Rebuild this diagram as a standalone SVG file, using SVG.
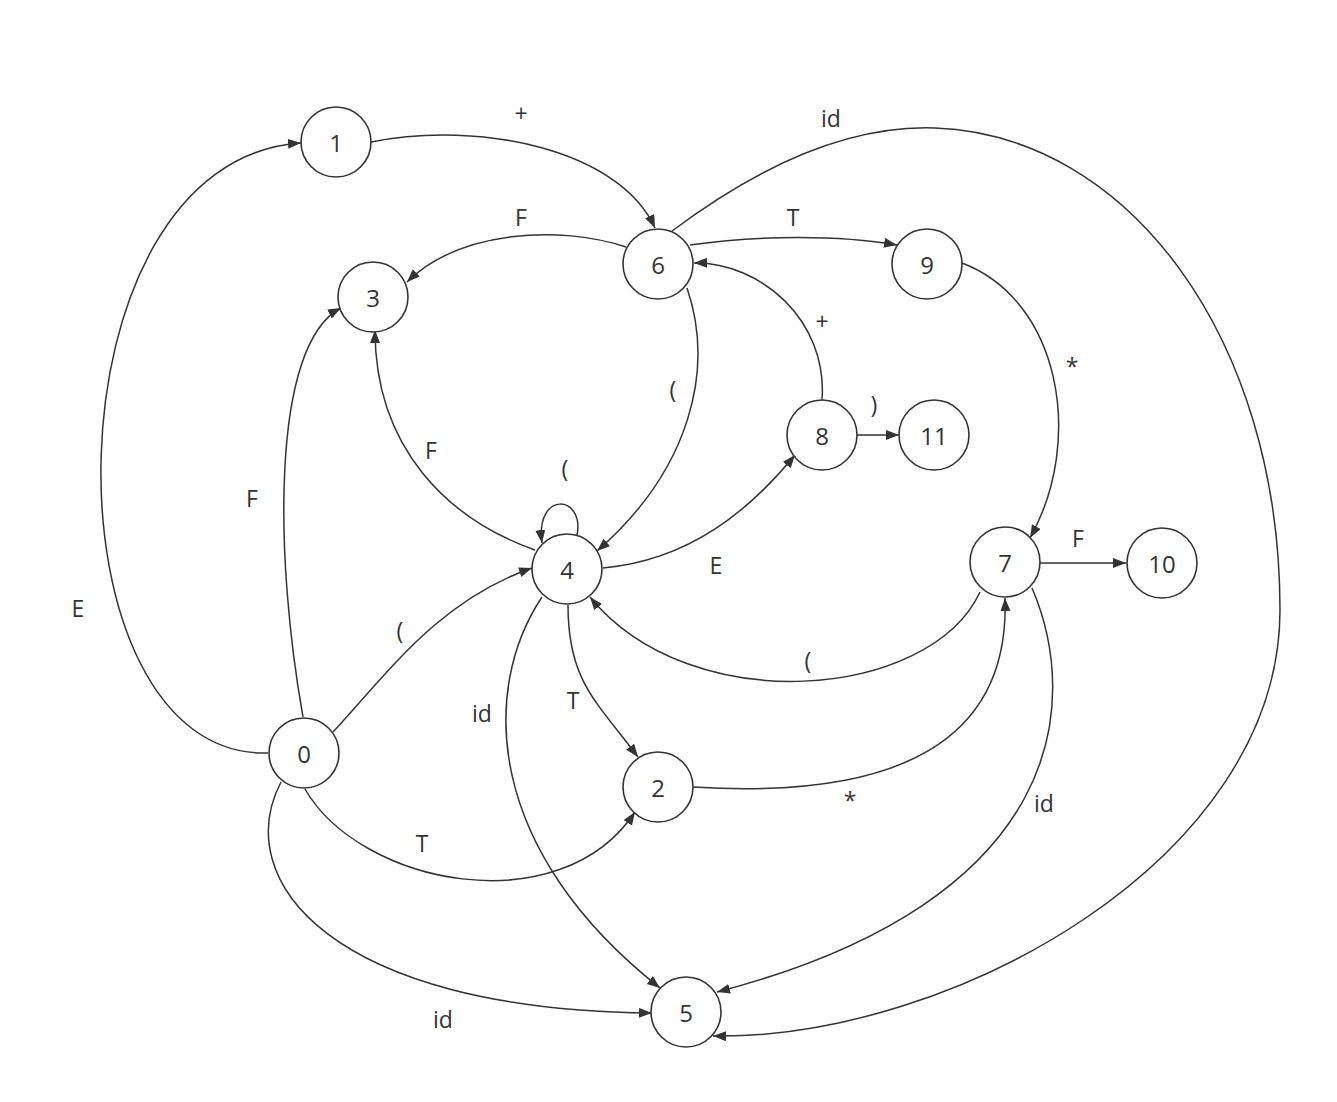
<svg xmlns="http://www.w3.org/2000/svg" width="1337" height="1102" viewBox="0 0 1337 1102">
<style>
.node circle{fill:#fff;stroke:#333;stroke-width:1.6}
.node text{font-family:"Open Sans","Noto Sans",sans-serif;font-size:24px;fill:#333;text-anchor:middle;dominant-baseline:central}
.edges path{fill:none;stroke:#333;stroke-width:1.5;marker-end:url(#arr)}
.lbl text{font-family:"Open Sans","Noto Sans",sans-serif;font-size:23px;fill:#333;text-anchor:middle;dominant-baseline:central}
</style>
<defs>
<marker id="arr" markerUnits="userSpaceOnUse" markerWidth="14" markerHeight="11" refX="13" refY="5" orient="auto">
<path d="M0,0 L13,5 L0,10 z" fill="#333"/>
</marker>
</defs>
<rect width="1337" height="1102" fill="#fff"/>
<g class="edges">
<path d="M268 753 C40 760,40 160,301 143"/>
<path d="M371 142 C480 120,620 150,655 228"/>
<path d="M626 247 C560 225,460 230,407 282"/>
<path d="M690 245 C760 235,840 235,897 245"/>
<path d="M672 231 C760 165,850 125,935 128 C1130 135,1280 340,1280 610 C1280 860,950 1040,713 1036"/>
<path d="M687 288 C715 370,690 470,597 551"/>
<path d="M822 400 C828 320,760 262,694 263"/>
<path d="M857 435 L899 435"/>
<path d="M962 263 C1060 300,1085 440,1030 538"/>
<path d="M535 550 C450 520,375 450,375 330"/>
<path d="M603 568 C690 560,750 510,795 455"/>
<path d="M577 535 C585 495,535 490,542 543"/>
<path d="M303 717 C275 560,270 345,341 308"/>
<path d="M333 732 C390 670,440 600,532 568"/>
<path d="M980 592 C930 700,690 720,590 597"/>
<path d="M1040 563 L1126 563"/>
<path d="M568 605 C568 680,595 700,638 757"/>
<path d="M542 597 C480 690,485 850,660 988"/>
<path d="M693 787 C900 800,1010 740,1005 598"/>
<path d="M1032 588 C1080 700,1070 900,717 992"/>
<path d="M305 789 C360 885,560 925,635 812"/>
<path d="M281 782 C230 880,330 1010,652 1013"/>
</g>
<g class="lbl">
<text x="78" y="608">E</text>
<text x="521" y="113">+</text>
<text x="521" y="217">F</text>
<text x="793" y="217">T</text>
<text x="831" y="118">id</text>
<text x="673" y="389">(</text>
<text x="822" y="321">+</text>
<text x="874" y="404">)</text>
<text x="1072" y="366">*</text>
<text x="431" y="450">F</text>
<text x="716" y="565">E</text>
<text x="565" y="468">(</text>
<text x="252" y="498">F</text>
<text x="400" y="630">(</text>
<text x="808" y="660">(</text>
<text x="1078" y="538">F</text>
<text x="573" y="700">T</text>
<text x="482" y="713">id</text>
<text x="850" y="800">*</text>
<text x="1044" y="803">id</text>
<text x="422" y="843">T</text>
<text x="443" y="1019">id</text>
</g>
<g id="n1" class="node"><circle cx="336" cy="142" r="35"/><text x="336" y="142">1</text></g>
<g id="n6" class="node"><circle cx="658" cy="264" r="35"/><text x="658" y="264">6</text></g>
<g id="n9" class="node"><circle cx="927" cy="264" r="35"/><text x="927" y="264">9</text></g>
<g id="n3" class="node"><circle cx="373" cy="297" r="35"/><text x="373" y="297">3</text></g>
<g id="n8" class="node"><circle cx="822" cy="435" r="35"/><text x="822" y="435">8</text></g>
<g id="n11" class="node"><circle cx="934" cy="435" r="35"/><text x="934" y="435">11</text></g>
<g id="n4" class="node"><circle cx="567" cy="569" r="35"/><text x="567" y="569">4</text></g>
<g id="n7" class="node"><circle cx="1005" cy="562" r="35"/><text x="1005" y="562">7</text></g>
<g id="n10" class="node"><circle cx="1162" cy="563" r="35"/><text x="1162" y="563">10</text></g>
<g id="n0" class="node"><circle cx="304" cy="753" r="35"/><text x="304" y="753">0</text></g>
<g id="n2" class="node"><circle cx="658" cy="787" r="35"/><text x="658" y="787">2</text></g>
<g id="n5" class="node"><circle cx="686" cy="1012" r="35"/><text x="686" y="1012">5</text></g>
</svg>
